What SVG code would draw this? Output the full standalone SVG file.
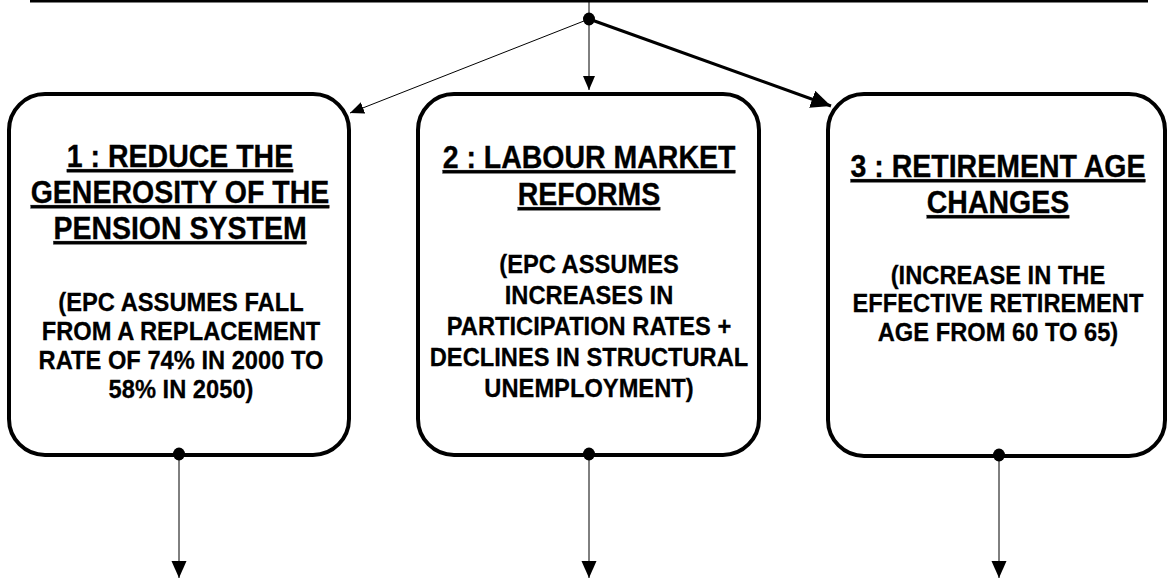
<svg xmlns="http://www.w3.org/2000/svg" width="1168" height="580" viewBox="0 0 1168 580">
<style>
.box{fill:#fff;stroke:#000;stroke-width:4}
.h{font-family:"Liberation Sans",Arial,sans-serif;font-weight:bold;font-size:28.5px;text-anchor:middle;text-decoration:underline;fill:#000;stroke:#000;stroke-width:0.3}
.b{font-family:"Liberation Sans",Arial,sans-serif;font-weight:bold;font-size:23.7px;text-anchor:middle;fill:#000;stroke:#000;stroke-width:0.25}
.thin{stroke:#000;stroke-width:1;fill:none}
.thick{stroke:#000;stroke-width:3;fill:none}
.dot{fill:#000}
</style>
<defs>
<marker id="ah" markerUnits="userSpaceOnUse" markerWidth="16" markerHeight="14" refX="14" refY="6" orient="auto">
<path d="M0,0 L14,6 L0,12 Z" fill="#000"/>
</marker>
<marker id="ahThick" markerUnits="userSpaceOnUse" markerWidth="22" markerHeight="20" refX="20" refY="9" orient="auto">
<path d="M0,0 L20,9 L0,18 Z" fill="#000"/>
</marker>
<marker id="ahDown" markerUnits="userSpaceOnUse" markerWidth="20" markerHeight="18" refX="17" refY="7.5" orient="auto">
<path d="M0,0 L17,7.5 L0,15 Z" fill="#000"/>
</marker>
</defs>

<g id="top-node">
<line x1="30" y1="1" x2="1148" y2="1" stroke="#000" stroke-width="3"/>
</g>

<g id="node1">
<rect class="box" x="9" y="94" width="340" height="361" rx="36" ry="36"/>
<text class="h" transform="translate(180,167) scale(1,1.1)">1 : REDUCE THE</text>
<text class="h" transform="translate(180,203) scale(1,1.1)">GENEROSITY OF THE</text>
<text class="h" transform="translate(180,239) scale(1,1.1)">PENSION SYSTEM</text>
<text class="b" transform="translate(181,311) scale(1,1.1)">(EPC ASSUMES FALL</text>
<text class="b" transform="translate(181,340) scale(1,1.1)">FROM A REPLACEMENT</text>
<text class="b" transform="translate(181,369) scale(1,1.1)">RATE OF 74% IN 2000 TO</text>
<text class="b" transform="translate(181,398) scale(1,1.1)">58% IN 2050)</text>
</g>

<g id="node2">
<rect class="box" x="418" y="94" width="341" height="361" rx="36" ry="36"/>
<text class="h" transform="translate(589,168) scale(1,1.1)">2 : LABOUR MARKET</text>
<text class="h" transform="translate(589,205) scale(1,1.1)">REFORMS</text>
<text class="b" transform="translate(589,273) scale(1,1.1)">(EPC ASSUMES</text>
<text class="b" transform="translate(589,304) scale(1,1.1)">INCREASES IN</text>
<text class="b" transform="translate(589,335) scale(1,1.1)">PARTICIPATION RATES +</text>
<text class="b" transform="translate(589,366) scale(1,1.1)">DECLINES IN STRUCTURAL</text>
<text class="b" transform="translate(589,397) scale(1,1.1)">UNEMPLOYMENT)</text>
</g>

<g id="node3">
<rect class="box" x="828" y="94" width="337" height="362" rx="36" ry="36"/>
<text class="h" transform="translate(998,177) scale(1,1.1)">3 : RETIREMENT AGE</text>
<text class="h" transform="translate(998,213) scale(1,1.1)">CHANGES</text>
<text class="b" transform="translate(998,284) scale(1,1.1)">(INCREASE IN THE</text>
<text class="b" transform="translate(998,312) scale(1,1.1)">EFFECTIVE RETIREMENT</text>
<text class="b" transform="translate(998,341) scale(1,1.1)">AGE FROM 60 TO  65)</text>
</g>

<g id="connectors">
<line class="thin" x1="589" y1="1" x2="589" y2="19"/>
<line class="thin" x1="589" y1="19" x2="350" y2="113" marker-end="url(#ah)"/>
<line class="thin" x1="589" y1="19" x2="589" y2="90" marker-end="url(#ah)"/>
<line class="thick" x1="589" y1="19" x2="831" y2="106" marker-end="url(#ahThick)"/>
<ellipse class="dot" cx="589" cy="19" rx="6" ry="6.5"/>
<line class="thin" x1="179" y1="454" x2="179" y2="578" marker-end="url(#ahDown)"/>
<line class="thin" x1="589" y1="454" x2="589" y2="578" marker-end="url(#ahDown)"/>
<line class="thin" x1="999" y1="455" x2="999" y2="578" marker-end="url(#ahDown)"/>
<ellipse class="dot" cx="179" cy="454" rx="6" ry="6.5"/>
<ellipse class="dot" cx="589" cy="454" rx="6" ry="6.5"/>
<ellipse class="dot" cx="999" cy="455" rx="6" ry="6.5"/>
</g>
</svg>
